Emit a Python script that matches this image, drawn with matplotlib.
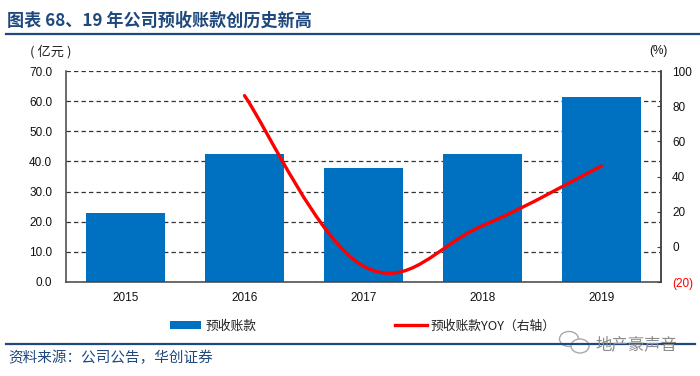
import matplotlib
matplotlib.use('Agg')
import matplotlib.pyplot as plt
from matplotlib.path import Path
from matplotlib.patches import PathPatch, Patch, Ellipse
from matplotlib.lines import Line2D

years = ['2015', '2016', '2017', '2018', '2019']
deposits = [23.0, 42.3, 37.8, 42.3, 61.5]
yoy_years = [1, 2, 3, 4]
yoy = [86.0, -11.0, 12.0, 46.0]
left_ticks = [0, 10, 20, 30, 40, 50, 60, 70]
right_ticks = [-20, 0, 20, 40, 60, 80, 100]

CJK = ['Noto Sans CJK SC', 'DejaVu Sans']
SANS = ['Liberation Sans', 'DejaVu Sans']
BLUE = '#0070C0'
NAVY = '#1F497D'
W, H = 700, 376

fig = plt.figure(figsize=(W / 100, H / 100), dpi=100, facecolor='white')
ax = fig.add_axes([66 / W, 1 - 282 / H, (661 - 66) / W, (282 - 71) / H])
ax.bar(range(5), deposits, width=0.67, color=BLUE, zorder=2)
ax.set_xlim(-0.5, 4.5)
ax.set_ylim(0, 70)
ax.set_yticks(left_ticks, [f'{v:.1f}' for v in left_ticks], family=SANS, fontsize=8.5, color='#111111')
ax.set_xticks(range(5), years, family=SANS, fontsize=8.5, color='#111111')
ax.tick_params(axis='x', length=0, pad=7)
ax.tick_params(axis='y', length=0, pad=10)
ax.grid(axis='y', color='#333333', linestyle=(0, (3.5, 2.5)), linewidth=0.9, zorder=1)
ax.set_axisbelow(True)
ax.spines['top'].set_visible(False)
for s in ['left', 'bottom', 'right']:
    ax.spines[s].set_color('#444444')
    ax.spines[s].set_linewidth(1.1)

ax2 = ax.twinx()
ax2.set_ylim(-20, 100)
ax2.set_yticks(right_ticks)
labels = ['(20)' if v < 0 else str(v) for v in right_ticks]
ax2.set_yticklabels(labels, family=SANS, fontsize=8.5, color='#111111')
ax2.get_yticklabels()[0].set_color('#FF0000')
ax2.tick_params(axis='y', length=3, direction='in', pad=8, color='#444444')
for s in ['top', 'left', 'bottom']:
    ax2.spines[s].set_visible(False)
ax2.spines['right'].set_color('#444444')
ax2.spines['right'].set_linewidth(1.1)

# smoothed line: Catmull-Rom style Bezier through the data points
n = len(yoy)
verts = [(yoy_years[0], yoy[0])]
codes = [Path.MOVETO]
k = 0.19
for i in range(n - 1):
    p0 = (yoy_years[max(i - 1, 0)], yoy[max(i - 1, 0)])
    p1 = (yoy_years[i], yoy[i])
    p2 = (yoy_years[i + 1], yoy[i + 1])
    p3 = (yoy_years[min(i + 2, n - 1)], yoy[min(i + 2, n - 1)])
    verts += [(p1[0] + k * (p2[0] - p0[0]), p1[1] + k * (p2[1] - p0[1])),
              (p2[0] - k * (p3[0] - p1[0]), p2[1] - k * (p3[1] - p1[1])),
              p2]
    codes += [Path.CURVE4] * 3
ax2.add_patch(PathPatch(Path(verts, codes), fill=False, edgecolor='#FF0000', linewidth=2.4, capstyle='round', zorder=5))

# header and footer
fig.add_artist(Line2D([6 / W, 1], [1 - 33.5 / H] * 2, color=NAVY, linewidth=1.6))
fig.add_artist(Line2D([6 / W, 695 / W], [1 - 343.5 / H] * 2, color=NAVY, linewidth=1.6))
fig.text(7 / W, 1 - 21 / H, '图表 68、19 年公司预收账款创历史新高', family=CJK, fontsize=12.3, fontweight='bold',
         color=NAVY, va='center', ha='left')
fig.text(30 / W, 1 - 51.5 / H, '( 亿元 )', family=CJK, fontsize=9.5, color='#222222', va='center', ha='left')
fig.text(658 / W, 1 - 51 / H, '(%)', family=SANS, fontsize=8.5, color='#111111', va='center', ha='center')
fig.text(8 / W, 1 - 358 / H, '资料来源：公司公告，华创证券', family=CJK, fontsize=10.5,
         color=NAVY, va='center', ha='left')

# legend
handles = [Patch(facecolor=BLUE), Line2D([], [], color='#FF0000', linewidth=2.4)]
fig.legend(handles, ['预收账款', '预收账款YOY（右轴）'], prop={'family': CJK, 'size': 9.2}, ncol=2, frameon=False,
           loc='center left', bbox_to_anchor=(170 / W, 1 - 326 / H), labelcolor='#222222',
           handlelength=2.45, handleheight=0.5, handletextpad=0.3, columnspacing=10.9, borderpad=0, borderaxespad=0)

# watermark
for cx, cy, w, h in [(569, 339, 19, 15), (580, 346, 18, 14)]:
    fig.add_artist(Ellipse((cx / W, 1 - cy / H), w / W, h / H, transform=fig.transFigure, facecolor='white',
                           edgecolor='#a8a8a8', linewidth=1.0))
fig.text(595 / W, 1 - 345 / H, '地产豪声音', family=CJK, fontsize=11.8, color='#8a8a8a', va='center', ha='left')
fig.savefig('out.png', dpi=100)
